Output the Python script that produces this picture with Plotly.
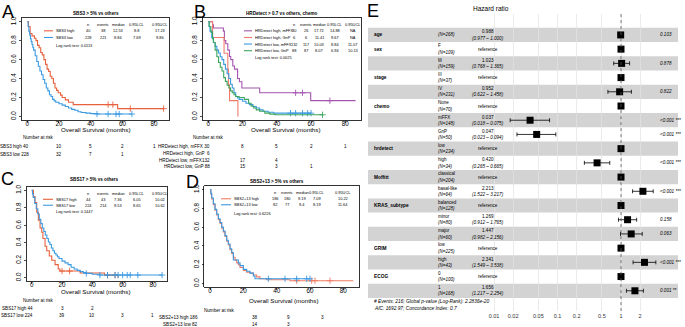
import plotly.graph_objects as go

W, H = 685, 327
FONT = "Liberation Sans"

# ---------------- DATA ----------------
# Panel A: SBS3 > 5% vs others
a_high_t = [0, 0.8, 1.8, 3, 4.5, 5.5, 6.5, 7.5, 8.5, 9.5, 10.5, 11.5, 12.5, 13.5, 14.5, 15.5, 16.5, 17.5, 18.5, 19.5, 21, 22, 24, 26, 29, 57]
a_high_s = [1, 0.95, 0.875, 0.85, 0.825, 0.8, 0.75, 0.725, 0.675, 0.65, 0.6, 0.55, 0.5, 0.475, 0.425, 0.4, 0.35, 0.3, 0.275, 0.25, 0.225, 0.2, 0.175, 0.15, 0.125, 0.083]
a_high_end = 86
a_high_cens = [51, 54, 65, 86]
a_low_t = [0, 0.5, 1, 1.5, 2, 2.5, 3, 3.5, 4, 5, 6, 7, 8, 9, 10, 11, 12, 13, 14, 15, 16, 17, 18, 20, 22, 24, 26, 28, 30, 32, 34, 37, 40, 44]
a_low_s = [1, 0.95, 0.9, 0.86, 0.82, 0.79, 0.76, 0.73, 0.7, 0.64, 0.58, 0.53, 0.48, 0.44, 0.39, 0.35, 0.3, 0.27, 0.23, 0.21, 0.18, 0.165, 0.15, 0.135, 0.12, 0.106, 0.09, 0.075, 0.065, 0.05, 0.042, 0.035, 0.03, 0.026]
a_low_end = 66
a_low_cens = [44, 51, 56, 58, 66]

# Panel B: HRDetect x chemo
b_hm_t = [0, 2.5, 3, 8.8, 9.4, 10.2, 11.4, 12.4, 13.1, 14.3, 15.3, 17.1, 18.2, 19.6, 30, 59.8]
b_hm_s = [1, 0.967, 0.933, 0.9, 0.8, 0.767, 0.7, 0.633, 0.6, 0.533, 0.5, 0.4, 0.367, 0.3, 0.25, 0.167]
b_hm_end = 86
b_hm_cens = [51, 55, 71]
b_hg_t = [0, 2.5, 9.2, 11.4, 11.8, 12.4, 17.3]
b_hg_s = [1, 0.833, 0.667, 0.5, 0.333, 0.167, 0]
b_hg_end = 17.3
b_hg_cens = []
b_lm_t = [0, 0.5, 1, 2, 3, 4, 5, 6, 7, 8, 9, 10, 11, 12, 13, 14, 15, 16, 17, 18, 20, 22, 24, 26, 28, 30, 32, 35, 38]
b_lm_s = [1, 0.95, 0.9, 0.83, 0.78, 0.74, 0.7, 0.67, 0.63, 0.6, 0.55, 0.5, 0.45, 0.4, 0.34, 0.3, 0.25, 0.21, 0.195, 0.18, 0.16, 0.14, 0.125, 0.105, 0.09, 0.07, 0.055, 0.045, 0.035]
b_lm_end = 60
b_lm_cens = [48, 51, 55, 58, 60]
b_lg_t = [0, 0.5, 1.5, 2.5, 3, 4, 5, 6, 7, 8, 9, 10, 11, 12, 13, 14, 15, 16, 18, 21, 23.5, 25, 26.5, 28, 30, 33, 36, 39]
b_lg_s = [1, 0.95, 0.89, 0.82, 0.78, 0.7, 0.63, 0.57, 0.52, 0.48, 0.41, 0.37, 0.33, 0.3, 0.27, 0.25, 0.23, 0.21, 0.2, 0.18, 0.14, 0.11, 0.09, 0.07, 0.055, 0.035, 0.025, 0.018]
b_lg_end = 66.7
b_lg_cens = [66.7]

# Panel C: SBS17 > 5% vs others
c_high_t = [0, 1.1, 2.2, 3.3, 4.4, 5.5, 6.6, 7.4, 8.8, 9.9, 11.6, 13.2, 15.4, 17.5, 18.6, 32, 48, 57]
c_high_s = [1, 0.93, 0.86, 0.75, 0.66, 0.57, 0.52, 0.45, 0.36, 0.31, 0.25, 0.2, 0.15, 0.1, 0.077, 0.055, 0.03, 0.0]
c_high_end = 57
c_high_cens = [20, 25, 50, 55]
c_low_t = [0, 0.5, 1, 2, 3, 4, 5, 6, 7, 8, 9, 10, 11, 12, 13, 14, 15, 16, 17, 18, 20, 22, 24, 26, 28, 30, 32, 34, 36, 40, 45]
c_low_s = [1, 0.96, 0.92, 0.85, 0.79, 0.73, 0.67, 0.62, 0.57, 0.53, 0.49, 0.45, 0.41, 0.38, 0.34, 0.31, 0.28, 0.26, 0.24, 0.22, 0.19, 0.17, 0.15, 0.12, 0.1, 0.085, 0.07, 0.06, 0.05, 0.04, 0.031]
c_low_end = 86
c_low_cens = [36, 45, 50, 55, 57, 60, 63, 65, 70, 86]

# Panel D: SBS2+13 > 5% vs others
d_high_t = [0, 0.5, 1, 2, 3, 4, 5, 6, 7, 8, 9, 10, 11, 12, 13, 14, 15, 16, 17, 18, 20, 22, 24, 26, 28, 30, 34, 48]
d_high_s = [1, 0.95, 0.9, 0.84, 0.78, 0.73, 0.68, 0.64, 0.59, 0.55, 0.5, 0.45, 0.41, 0.36, 0.32, 0.28, 0.25, 0.22, 0.2, 0.17, 0.14, 0.12, 0.11, 0.09, 0.07, 0.05, 0.04, 0.03]
d_high_end = 86
d_high_cens = [52, 61, 63, 72]
d_low_t = [0, 0.5, 1, 2, 3, 4, 5, 6, 7, 8, 9, 10, 11, 12, 13, 14, 17, 18, 20, 22, 24, 26, 27]
d_low_s = [1, 0.96, 0.91, 0.85, 0.79, 0.74, 0.69, 0.65, 0.6, 0.56, 0.51, 0.46, 0.42, 0.37, 0.33, 0.25, 0.22, 0.19, 0.15, 0.13, 0.11, 0.08, 0.05]
d_low_end = 60
d_low_cens = [35, 45, 52, 58, 60]

km_time_ticks = [0, 20, 40, 60, 80]
surv_ticks = [0, 0.2, 0.4, 0.6, 0.8, 1.0]
surv_ticktext = ["0.0", "0.2", "0.4", "0.6", "0.8", "1.0"]
stat_header = ["n", "events", "median", "0.95LCL", "0.95UCL"]

a_titles = ("SBS3 > 5% vs others", ["SBS3 high", "SBS3 low"])
a_stats = [["40", "38", "12.53", "8.8", "17.23"], ["228", "221", "8.84", "7.69", "9.86"]]
a_logrank = "Log rank test: 0.0113"
a_risk = [("SBS3 high 40", ["10", "5", "2", "1"]), ("SBS3 low 228", ["32", "7", "1", ""])]

b_titles = ("HRDetect > 0.7 vs others, chemo",
            ["HRDetect high, mFFX", "HRDetect high, GnP", "HRDetect low, mFFX", "HRDetect low, GnP"])
b_stats = [["30", "26", "17.72", "14.88", "NA"], ["6", "6", "11.41", "9.67", "NA"],
           ["132", "117", "10.03", "8.84", "11.07"], ["88", "87", "8.07", "6.94", "10.13"]]
b_logrank = "Log rank test: 0.0025"
b_risk = [("HRDetect high, mFFX 30", ["8", "5", "2", "1"]), ("HRDetect high, GnP  6", ["", "", "", ""]),
          ("HRDetect low, mFFX132", ["17", "4", "", ""]), ("HRDetect low, GnP 88", ["15", "3", "1", ""])]

c_titles = ("SBS17 > 5% vs others", ["SBS17 high", "SBS17 low"])
c_stats = [["44", "43", "7.36", "6.05", "10.02"], ["224", "214", "9.53", "8.65", "10.62"]]
c_logrank = "Log rank test: 0.1447"
c_risk = [("SBS17 high 44", ["3", "2", "", ""]), ("SBS17 low 224", ["39", "10", "3", "1"])]

d_titles = ("SBS2+13 > 5% vs others", ["SBS2+13 high", "SBS2+13 low"])
d_stats = [["186", "180", "9.19", "7.09", "10.22"], ["82", "77", "9.4", "8.19", "11.64"]]
d_logrank = "Log rank test: 0.6226"
d_risk = [("SBS2+13 high 186", ["38", "9", "3"]), ("SBS2+13 low 82", ["14", "3", ""])]

# Panel E: Cox model forest plot
fp_var = ["age", "sex", "", "stage", "", "chemo", "", "", "hrdetect", "", "Moffitt", "",
          "KRAS_subtype", "", "", "GRIM", "", "ECOG", ""]
fp_level = ["", "F", "M", "III", "IV", "None", "mFFX", "GnP", "low", "high", "classical", "basal-like",
            "balanced", "minor", "major", "low", "high", "0", "1"]
fp_n = [268, 109, 159, 37, 231, 70, 148, 50, 234, 34, 204, 64, 128, 80, 60, 225, 43, 100, 168]
fp_hr = [0.988, 1, 1.023, 1, 0.952, 1, 0.037, 0.047, 1, 0.420, 1, 2.213, 1, 1.269, 1.447, 1, 2.341, 1, 1.656]
fp_lo = [0.977, None, 0.768, None, 0.622, None, 0.018, 0.023, None, 0.265, None, 1.522, None, 0.912, 0.982, None, 1.549, None, 1.217]
fp_hi = [1.000, None, 1.365, None, 1.458, None, 0.075, 0.094, None, 0.665, None, 3.217, None, 1.765, 2.156, None, 3.538, None, 2.254]
fp_p = ["0.103", "", "0.878", "", "0.822", "", "<0.001 ***", "<0.001 ***", "", "<0.001 ***", "", "<0.001 ***",
        "", "0.158", "0.063", "", "<0.001 ***", "", "0.001 **"]
fp_ticks = [0.01, 0.02, 0.05, 0.1, 0.2, 0.5, 1, 2]
fp_ticktext = ["0.01", "0.02", "0.05", "0.1", "0.2", "0.5", "1", "2"]
fp_footer = ["# Events: 216; Global p-value (Log-Rank): 2.2836e-20", "AIC: 1692.97; Concordance Index: 0.7"]

RED = "#E8603C"
RED2 = "#EF7C62"
BLUE = "#3B9AE1"
PURPLE = "#A455B0"
SALMON = "#F07B6B"
GREEN = "#3BA55B"

# ---------------- helpers ----------------
fig = go.Figure()
layout = {}
anns = []
shapes = []
XR = [-3.44, 89.4]
LEG_FS = 3.9
RISK_FS = 4.6


def fx(p):
    return p / W


def fy(p):
    return 1 - p / H


def ann(x, y, text, size, xanchor="center", yanchor="middle", color="black"):
    anns.append(dict(x=fx(x), y=fy(y), xref="paper", yref="paper", text=text, showarrow=False,
                     xanchor=xanchor, yanchor=yanchor, font=dict(size=size, family=FONT, color=color),
                     borderpad=0))


def s_at(t, ts, ss):
    v = ss[0]
    for ti, si in zip(ts, ss):
        if ti <= t:
            v = si
    return v


def add_km(idx, xdom, ydom, curves):
    ax = "" if idx == 1 else str(idx)
    layout["xaxis" + ax] = dict(domain=[fx(xdom[0]), fx(xdom[1])], range=XR, tickvals=km_time_ticks,
                                ticks="outside", ticklen=2, tickwidth=0.7, tickcolor="black",
                                ticklabelstandoff=-5,
                                tickfont=dict(size=6.3, family=FONT, color="black"),
                                showline=True, linecolor="black", linewidth=0.8, mirror=True,
                                showgrid=False, zeroline=False, anchor="y" + ax)
    layout["yaxis" + ax] = dict(domain=[fy(ydom[1]), fy(ydom[0])], range=[-0.04, 1.04], tickvals=surv_ticks,
                                ticktext=surv_ticktext, tickangle=-90,
                                ticks="outside", ticklen=2, tickwidth=0.7, tickcolor="black",
                                tickfont=dict(size=6.3, family=FONT, color="black"),
                                showline=True, linecolor="black", linewidth=0.8, mirror=True,
                                showgrid=False, zeroline=False, anchor="x" + ax)
    for t, s, end, cens, col in curves:
        fig.add_trace(go.Scatter(x=t + [end], y=s + [s[-1]], mode="lines",
                                 line=dict(shape="hv", color=col, width=1.1),
                                 xaxis="x" + ax, yaxis="y" + ax, hoverinfo="skip"))
        if cens:
            fig.add_trace(go.Scatter(x=cens, y=[s_at(c, t, s) for c in cens], mode="markers",
                                     marker=dict(symbol="cross-thin", size=4.5, color=col,
                                                 line=dict(color=col, width=0.9)),
                                     xaxis="x" + ax, yaxis="y" + ax, hoverinfo="skip"))


def tpx(xdom, t):
    return xdom[0] + (t - XR[0]) / (XR[1] - XR[0]) * (xdom[1] - xdom[0])


def km_text(letter, letter_xy, title, title_xy, names, colors, line_x, label_x, header_y, row_ys,
            cols_x, stats, logrank, logrank_y, xtitle_xy):
    ann(letter_xy[0], letter_xy[1], letter, 18)
    ann(title_xy[0], title_xy[1], "<b>" + title + "</b>", 4.6)
    for cx, h in zip(cols_x, stat_header):
        ann(cx, header_y, h, LEG_FS)
    for name, col, ry, row in zip(names, colors, row_ys, stats):
        shapes.append(dict(type="line", xref="paper", yref="paper", x0=fx(line_x[0]), x1=fx(line_x[1]),
                           y0=fy(ry), y1=fy(ry), line=dict(color=col, width=1.1)))
        ann(label_x, ry, name, LEG_FS, xanchor="left")
        for cx, v in zip(cols_x, row):
            ann(cx, ry, v, LEG_FS)
    ann(label_x, logrank_y, logrank, LEG_FS, xanchor="left")
    ann(xtitle_xy[0], xtitle_xy[1], "Overall Survival (months)", 6.2)


def risk_table(nar_xy, label_right, row_ys, col_xs, rows):
    ann(nar_xy[0], nar_xy[1], "Number at risk", RISK_FS)
    for ry, (lab, vals) in zip(row_ys, rows):
        ann(label_right, ry, lab, RISK_FS, xanchor="right")
        for cx, v in zip(col_xs, vals):
            if v:
                ann(cx, ry, v, RISK_FS)


# ---------------- Panel A ----------------
A_X, A_Y = (21.8, 169), (16, 119)
add_km(1, A_X, A_Y, [(a_high_t, a_high_s, a_high_end, a_high_cens, RED),
                     (a_low_t, a_low_s, a_low_end, a_low_cens, BLUE)])
km_text("A", (7.5, 10), a_titles[0], (96, 12), a_titles[1], [RED, BLUE], (44, 53), 55, 22.3, [29, 35.7],
        [88.3, 103.3, 118.3, 136.7, 160], a_stats, a_logrank, 43.3, (95, 128.5))
risk_table((38, 136), 30, [145, 153], [tpx(A_X, t) for t in km_time_ticks[1:]], a_risk)

# ---------------- Panel B ----------------
B_X, B_Y = (202.4, 361.4), (16, 119)
add_km(2, B_X, B_Y, [(b_hm_t, b_hm_s, b_hm_end, b_hm_cens, PURPLE),
                     (b_hg_t, b_hg_s, b_hg_end, b_hg_cens, SALMON),
                     (b_lm_t, b_lm_s, b_lm_end, b_lm_cens, BLUE),
                     (b_lg_t, b_lg_s, b_lg_end, b_lg_cens, GREEN)])
km_text("B", (199.5, 10), b_titles[0], (282, 12), b_titles[1], [PURPLE, SALMON, BLUE, GREEN], (244, 252), 254,
        22.5, [29, 35.7, 42.3, 49], [294, 306, 319, 335, 353], b_stats, b_logrank, 55.5, (285, 128.5))
risk_table((208, 136), 211, [145, 152, 159, 166], [tpx(B_X, t) for t in km_time_ticks[1:]], b_risk)

# ---------------- Panel C ----------------
C_X, C_Y = (26.5, 167.2), (186, 281)
add_km(3, C_X, C_Y, [(c_high_t, c_high_s, c_high_end, c_high_cens, RED),
                     (c_low_t, c_low_s, c_low_end, c_low_cens, BLUE)])
km_text("C", (7.5, 178), c_titles[0], (94, 179), c_titles[1], [RED, BLUE], (43, 53), 55, 192.7, [198.5, 204.5],
        [88.3, 103.3, 118.3, 136.7, 160], c_stats, c_logrank, 211, (95, 291.5))
risk_table((38, 300), 34, [308, 315], [tpx(C_X, t) for t in km_time_ticks[1:]], c_risk)

# ---------------- Panel D ----------------
D_X, D_Y = (204.3, 359), (185, 287)
add_km(4, D_X, D_Y, [(d_high_t, d_high_s, d_high_end, d_high_cens, RED2),
                     (d_low_t, d_low_s, d_low_end, d_low_cens, BLUE)])
km_text("D", (192.5, 181), d_titles[0], (277, 181), d_titles[1], [RED2, BLUE], (221, 231), 233, 192, [198, 204],
        [275, 287, 302, 317, 343], d_stats, d_logrank, 212.5, (283, 300.5))
risk_table((219, 310), 199, [317, 324], [255, 288, 322], d_risk)

# ---------------- Panel E ----------------
E_X = (368, 685)
E_Y = (12, 311)
ROW0, ROWH = 33.15, 14.3
ytop = (E_Y[0] - ROW0) / ROWH
ybot = (E_Y[1] - ROW0) / ROWH
one_px = 621
dec = 63.5
layout["xaxis5"] = dict(domain=[fx(E_X[0]), 1], type="log",
                        range=[(E_X[0] - one_px) / dec, (E_X[1] - one_px) / dec],
                        tickvals=fp_ticks, ticktext=fp_ticktext, ticks="",
                        tickfont=dict(size=5.5, family=FONT, color="#333"),
                        showgrid=True, gridcolor="#e2e2e2", gridwidth=0.7, zeroline=False,
                        showline=False, anchor="y5")
layout["yaxis5"] = dict(domain=[fy(E_Y[1]), fy(E_Y[0])], range=[ybot, ytop], showgrid=False,
                        showticklabels=False, zeroline=False, showline=False, anchor="x5")

rows = list(range(len(fp_var)))
stripe_x1 = 678
for i in rows:
    if i % 2 == 0:
        shapes.append(dict(type="rect", xref="paper", yref="y5", x0=fx(E_X[0]), x1=fx(stripe_x1),
                           y0=i - 0.5, y1=i + 0.5,
                           fillcolor="#d3d3d3", line=dict(width=0), layer="between"))
shapes.append(dict(type="line", xref="x5", yref="paper", x0=1, x1=1, y0=fy(E_Y[1]), y1=fy(E_Y[0]),
                   line=dict(color="#555", width=0.8, dash="dot")))

ci_rows = [i for i in rows if fp_lo[i] is not None]
fig.add_trace(go.Scatter(x=[fp_hr[i] for i in ci_rows], y=ci_rows, mode="markers",
                         marker=dict(size=0.1, color="black"),
                         error_x=dict(type="data", symmetric=False,
                                      array=[fp_hi[i] - fp_hr[i] for i in ci_rows],
                                      arrayminus=[fp_hr[i] - fp_lo[i] for i in ci_rows],
                                      color="black", thickness=0.8, width=2),
                         xaxis="x5", yaxis="y5", hoverinfo="skip"))
fig.add_trace(go.Scatter(x=fp_hr, y=rows, mode="markers",
                         marker=dict(symbol="square", size=7, color="black"),
                         xaxis="x5", yaxis="y5", hoverinfo="skip"))


def rowpx(i):
    return ROW0 + ROWH * i


ann(373, 9, "E", 18)
ann(491, 7, "Hazard ratio", 6.5)
for i in rows:
    yc = rowpx(i)
    if fp_var[i]:
        ann(373, yc, "<b>" + fp_var[i] + "</b>", 4.8, xanchor="left")
    if fp_level[i]:
        ann(437, yc + 0.3, fp_level[i], 4.5, xanchor="left", yanchor="bottom")
        ann(437, yc - 0.3, "<i>(N=%d)</i>" % fp_n[i], 4.5, xanchor="left", yanchor="top")
    else:
        ann(437, yc, "<i>(N=%d)</i>" % fp_n[i], 4.5, xanchor="left")
    if fp_lo[i] is None:
        ann(488, yc, "reference", 4.6)
    else:
        ann(488, yc + 0.3, "%.3f" % fp_hr[i], 4.6, yanchor="bottom")
        ann(488, yc - 0.3, "<i>(%.3f – %.3f)</i>" % (fp_lo[i], fp_hi[i]), 4.6, yanchor="top")
    if fp_p[i]:
        ann(659, yc, "<i>" + fp_p[i] + "</i>", 4.6, xanchor="left")
ann(373, 301, "<i>" + fp_footer[0] + "</i>", 4.8, xanchor="left")
ann(373, 308, "<i>" + fp_footer[1] + "</i>", 4.8, xanchor="left")

fig.update_layout(width=W, height=H, margin=dict(l=0, r=0, t=0, b=0), paper_bgcolor="white",
                  plot_bgcolor="white", showlegend=False, annotations=anns, shapes=shapes,
                  hovermode=False, font=dict(family=FONT, color="black"), **layout)
fig.write_html("out.html", config={"displayModeBar": False, "staticPlot": True},
               post_script="document.body.style.margin='0px';document.body.style.overflow='hidden';")
